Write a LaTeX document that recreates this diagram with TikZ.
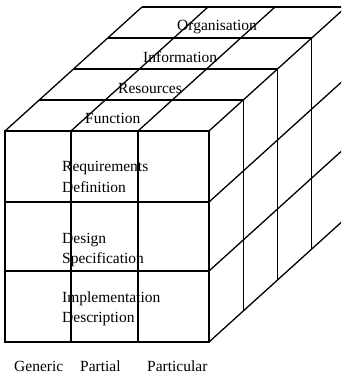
\documentclass[tikz,border=0pt]{standalone}
\usepackage{fontspec}
\setmainfont{Liberation Serif}
\begin{document}
\begin{tikzpicture}[x=1pt,y=-1pt,
  frontline/.style={line width=1.8pt},
  divline/.style={line width=1.1pt},
  depthline/.style={line width=1.3pt},
  lbl/.style={anchor=base west,inner sep=0pt,font=\fontsize{15.5}{18}\selectfont}]
\clip (0,0) rectangle (341,375);
\def\dx{34.25}\def\dy{-31}
% top face horizontal lines
\foreach \k in {1,2,3,4}
  \draw[depthline] ({5+\k*\dx},{131+\k*\dy}) -- ({209+\k*\dx},{131+\k*\dy});
% right face vertical lines
\foreach \k in {1,2,3}
  \draw[depthline] ({209+\k*\dx},{131+\k*\dy}) -- ({209+\k*\dx},{342+\k*\dy});
% top face diagonals
\foreach \x in {5,71,138,209}
  \draw[depthline] (\x,131) -- ({\x+4*\dx},{131+4*\dy});
% right face diagonals
\foreach \y in {202,271,342}
  \draw[depthline] (209,\y) -- ({209+4*\dx},{\y+4*\dy});
% front face
\draw[divline] (71,131) -- (71,342);
\draw[divline] (138,131) -- (138,342);
\draw[frontline] (5,202) -- (209,202);
\draw[frontline] (5,271) -- (209,271);
\draw[frontline] (5,131) rectangle (209,342);
% labels
\node[lbl] (org) at (177,30) {Organisation};
\node[lbl] (inf) at (143,62) {Information};
\node[lbl] (res) at (118,93) {Resources};
\node[lbl] (fun) at (85,123) {Function};
\node[lbl] (req) at (62,171) {Requirements};
\node[lbl] (def) at (62,192) {Definition};
\node[lbl] (des) at (62,243) {Design};
\node[lbl] (spe) at (62,263) {Specification};
\node[lbl] (imp) at (62,302) {Implementation};
\node[lbl] (dsc) at (62,322) {Description};
\node[lbl] (gen) at (14,371) {Generic};
\node[lbl] (par) at (80,371) {Partial};
\node[lbl] (prt) at (147,371) {Particular};
\end{tikzpicture}
\end{document}
